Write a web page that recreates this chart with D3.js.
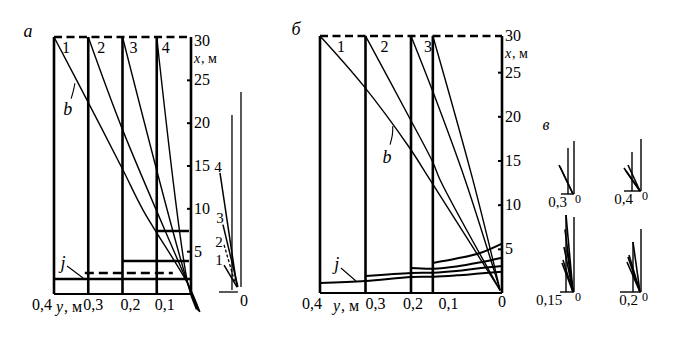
<!DOCTYPE html>
<html><head><meta charset="utf-8">
<script src="https://cdn.jsdelivr.net/npm/d3@7"></script>
<style>
body{margin:0;background:#fff}
svg{display:block}
svg text{font-family:'Liberation Serif','DejaVu Serif',serif !important;fill:#000}
</style>
</head><body>
<svg id="c" width="680" height="342" font-family="Liberation Serif"></svg>
<script>
// ---------- data ----------
const xTickValues = [5, 10, 15, 20, 25];
const yTickValues = [0.4, 0.3, 0.2, 0.1];
const yTickLabels = ["0,4", "0,3", "0,2", "0,1"];

// panel а
const surfaceA = 30;
const profilesA = [0.4, 0.3, 0.2, 0.1];
const profileNamesA = ["1", "2", "3", "4"];
const bLinesA = [
  [[0.4, 30], [0.307, 22.9], [0.199, 14.5], [0.14, 9.8], [0.009, 1.17], [-0.026, -2.1]],
  [[0.3, 30], [0.199, 19.1], [0.009, 1.17], [-0.023, -2.0]],
  [[0.2, 30], [0.009, 1.17], [-0.02, -1.9]],
  [[0.1, 30], [0.009, 1.17], [-0.016, -1.8]]
];
const jSolidA = [[0.1, 0.006, 7.35], [0.2, 0.006, 3.85], [0.4, 0, 1.75]];
const jDashedA = [[0.31, 0.053, 2.45]];

// inset next to panel а
const insetVerticals = [[0, 0.74, 29.7], [0.41, 0.3, 26.3]];
const insetBase = [1.0, 0.14];
const insetSolid = [
  [[0.955, 17.7], [0.18, 0.74]],
  [[0.82, 10.0], [0.14, 0.74]],
  [[0.77, 4.0], [0.18, 0.74]]
];
const insetDashed = [[[0.77, 7.0], [0.27, 1.34]]];
const insetNames = ["4", "3", "2", "1"];
const insetNamePos = [[1.045, 18.6], [0.955, 11.0], [1.0, 7.43], [1.0, 4.75]];

// panel б
const surfaceB = 29.1;
const profilesB = [0.4, 0.3, 0.2, 0.152];
const profileNamesB = ["1", "2", "3"];
const bLinesB = [
  [[0.4, 29.1], [0.305, 23.5], [0.204, 16.5], [0.158, 12.8], [0.004, 0.3]],
  [[0.3, 29.1], [0.204, 19.9], [0.152, 14.8], [0.136, 12.8], [0.004, 0.3]],
  [[0.2, 29.1], [0.152, 22.8], [0.081, 12.8], [0.004, 0.3]],
  [[0.152, 29.1], [0.064, 12.8], [0.004, 0.3]]
];
const jCurvesB = [
  [[0.4, 1.13], [0.3, 1.36], [0.2, 1.81], [0.15, 1.85], [0.1, 2.0], [0.05, 2.2], [0, 2.4]],
  [[0.3, 1.92], [0.2, 2.26], [0.15, 2.3], [0.1, 2.5], [0.05, 2.8], [0, 3.05]],
  [[0.2, 2.83], [0.15, 2.75], [0.1, 3.0], [0.05, 3.45], [0, 4.0]],
  [[0.152, 3.4], [0.1, 3.9], [0.05, 4.5], [0, 5.6]]
];

// panel в
const miniLabels = ["0,3", "0,4", "0,15", "0,2"];
const miniTall = [21.2, 20.8, 30, 25.2];
const miniProfile = [[3, 18.4], [4.5, 15.6], [4, 30.8], [4, 20]];
const miniBase = [6.5, 8.5, 7, 10.5];
const miniLines = [
  [[7.5, 11.6], [7.0, 11.0]],
  [[7.5, 8], [8.5, 9.2], [6.5, 10.4]],
  [[4, 30.8], [4.5, 25], [3.5, 16.8], [5, 18], [5.5, 12.8], [6, 11.6]],
  [[6.5, 14], [7, 12], [6, 14.8], [4, 20]]
];
const miniEnd = [0.5, 0];

// ---------- drawing ----------
const FONT = "'Liberation Serif','DejaVu Serif',serif";
const svg = d3.select("#c");
const hA = d3.scaleLinear().domain([0, 0.4]).range([191, 54]);
const vA = d3.scaleLinear().domain([0, 30]).range([294, 37]);
const hB = d3.scaleLinear().domain([0, 0.4]).range([502, 320]);
const vB = d3.scaleLinear().domain([0, 30]).range([293, 28]);

function seg(g, x1, y1, x2, y2, w, dash) {
  const l = g.append("line").attr("x1", x1).attr("y1", y1).attr("x2", x2).attr("y2", y2)
    .attr("stroke", "#000").attr("stroke-width", w);
  if (dash) l.attr("stroke-dasharray", dash);
  return l;
}
function txt(g, x, y, s, size, opts = {}) {
  const t = g.append("text").attr("x", x).attr("y", y).text(s)
    .attr("text-anchor", opts.anchor || "start")
    .style("font-family", FONT).style("font-size", size + "px");
  if (opts.italic) t.style("font-style", "italic");
  if (opts.dy) t.attr("dy", opts.dy);
  return t;
}

function panel(h, v, surface, profiles, names, nameDx, bLines, labelShift, base30, baseX) {
  const g = svg.append("g");
  seg(g, h(0.4), v(surface), h(0), v(surface), 2.6, "8,4.5");
  seg(g, h(0.4), v(0), h(0), v(0), 2.2);
  profiles.forEach(p => seg(g, h(p), v(0), h(p), v(surface), 2.6));
  seg(g, h(0), v(0), h(0), v(surface), 2.6);
  const ax = g.append("g").attr("transform", `translate(${h(0)},0)`)
    .call(d3.axisRight(v).tickValues(xTickValues).tickSizeInner(-4).tickSizeOuter(0)
      .tickPadding(3).tickFormat(d3.format("d")));
  ax.attr("font-family", null).attr("font-size", null);
  ax.select(".domain").remove();
  ax.selectAll(".tick line").attr("stroke-width", 2);
  ax.selectAll(".tick text").style("font-size", "16px").style("font-family", FONT);
  txt(g, h(0) + 3, base30, "30", 16);
  txt(g, h(0) + 3, baseX, "x", 14, {italic: true});
  txt(g, h(0) + 10, baseX, ", м", 14);
  names.forEach((n, i) => txt(g, h(profiles[i]) + nameDx[i], v(surface) + 16, n, 16));
  const line = d3.line().x(d => h(d[0])).y(d => v(d[1])).curve(d3.curveCatmullRom.alpha(0.5));
  bLines.forEach(pts => g.append("path").attr("d", line(pts)).attr("fill", "none")
    .attr("stroke", "#000").attr("stroke-width", 1.4));
  yTickValues.forEach((t, i) => txt(g, h(t) + labelShift[i], v(0) + 16, yTickLabels[i], 16,
    {anchor: "middle"}));
  return {g, line};
}

// panel а
const pa = panel(hA, vA, surfaceA, profilesA, profileNamesA, [8, 9, 7, 5], bLinesA,
  [-12, 5, 8, 8], 46, 63);
jSolidA.forEach(d => seg(pa.g, hA(d[0]), vA(d[2]), hA(d[1]), vA(d[2]), 2.6));
jDashedA.forEach(d => seg(pa.g, hA(d[0]), vA(d[2]), hA(d[1]), vA(d[2]), 2.4, "9,5"));
txt(pa.g, hA(0.4) + 2, vA(0) + 18, "y", 16, {italic: true});
txt(pa.g, hA(0.4) + 10, vA(0) + 18, ", м", 16);
txt(pa.g, 28, 37, "а", 18, {italic: true, anchor: "middle"});
txt(pa.g, hA(0.36), vA(21.6), "b", 18, {italic: true, anchor: "middle", dy: "0.35em"});
pa.g.append("path").attr("d", d3.line().curve(d3.curveCatmullRom)([
  [hA(0.35), vA(22.8)], [hA(0.343), vA(23.8)], [hA(0.339), vA(24.6)]]))
  .attr("fill", "none").attr("stroke", "#000").attr("stroke-width", 1.1);
txt(pa.g, hA(0.374), vA(3.7), "j", 18, {italic: true, anchor: "middle", dy: "0.35em"});
seg(pa.g, hA(0.362), vA(3.27), hA(0.315), vA(1.87), 1.1);

// inset
const hI = d3.scaleLinear().domain([0, 1]).range([241, 219]);
const vI = d3.scaleLinear().domain([0, 30]).range([292, 90]);
const gi = svg.append("g");
insetVerticals.forEach(d => seg(gi, hI(d[0]), vI(d[1]), hI(d[0]), vI(d[2]), 1.3));
seg(gi, hI(insetBase[0]), vI(0), hI(insetBase[1]), vI(0), 1.3);
insetSolid.forEach(p => seg(gi, hI(p[0][0]), vI(p[0][1]), hI(p[1][0]), vI(p[1][1]), 1.5));
insetDashed.forEach(p => seg(gi, hI(p[0][0]), vI(p[0][1]), hI(p[1][0]), vI(p[1][1]), 1.3, "3,2"));
insetNames.forEach((n, i) => txt(gi, hI(insetNamePos[i][0]), vI(insetNamePos[i][1]), n, 15,
  {anchor: "middle", dy: "0.35em"}));
txt(gi, hI(0) + 3, vI(0) + 14, "0", 16, {anchor: "middle"});

// panel б
const pb = panel(hB, vB, surfaceB, profilesB, profileNamesB, [17, 15, 13], bLinesB,
  [-8, 10, 2, -8], 41, 58);
const cline = d3.line().x(d => hB(d[0])).y(d => vB(d[1])).curve(d3.curveCatmullRom.alpha(0.5));
jCurvesB.forEach(pts => pb.g.append("path").attr("d", cline(pts)).attr("fill", "none")
  .attr("stroke", "#000").attr("stroke-width", 2));
txt(pb.g, hB(0), vB(0) + 14, "0", 16, {anchor: "middle"});
txt(pb.g, hB(0.4) + 13, vB(0) + 18, "y", 16, {italic: true});
txt(pb.g, hB(0.4) + 21, vB(0) + 18, ", м", 16);
txt(pb.g, 296, 35, "б", 18, {italic: true, anchor: "middle"});
txt(pb.g, hB(0.253), vB(15.4), "b", 18, {italic: true, anchor: "middle", dy: "0.35em"});
pb.g.append("path").attr("d", d3.line().curve(d3.curveCatmullRom)([
  [hB(0.246), vB(16.8)], [hB(0.241), vB(17.9)], [hB(0.24), vB(18.9)]]))
  .attr("fill", "none").attr("stroke", "#000").attr("stroke-width", 1.1);
txt(pb.g, hB(0.363), vB(3.3), "j", 18, {italic: true, anchor: "middle", dy: "0.35em"});
seg(pb.g, hB(0.354), vB(2.83), hB(0.321), vB(1.36), 1.1);

// panel в
const gm = svg.append("g");
txt(gm, 546, 130, "в", 16, {italic: true, anchor: "middle"});
const miniOrigins = [[574, 194], [641, 191], [574, 292], [641, 292]];
const miniLabelDx = [-16.5, -17.5, -25, -12.5];
const hM = d3.scaleLinear().domain([0, 10]).range([0, -20]);
const vM = d3.scaleLinear().domain([0, 30]).range([0, -75]);
miniLabels.forEach((lab, i) => {
  const [ox, oy] = miniOrigins[i];
  const X = d => ox + hM(d), Y = d => oy + vM(d);
  seg(gm, X(0), Y(0), X(0), Y(miniTall[i]), 1.4);
  seg(gm, X(miniProfile[i][0]), Y(0), X(miniProfile[i][0]), Y(miniProfile[i][1]), 1.4);
  seg(gm, X(miniBase[i]), Y(0), X(0), Y(0), 1.4);
  miniLines[i].forEach(p => seg(gm, X(p[0]), Y(p[1]), X(miniEnd[0]), Y(miniEnd[1]), 1.6));
  txt(gm, ox + miniLabelDx[i], oy + 13, lab, 15, {anchor: "middle"});
  txt(gm, ox + 4, oy + 9, "0", 12, {anchor: "middle"});
});
</script>
</body></html>
